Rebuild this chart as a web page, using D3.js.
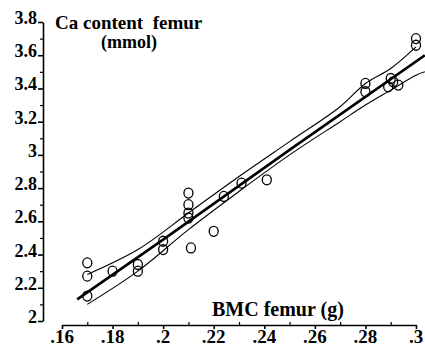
<!DOCTYPE html>
<html>
<head>
<meta charset="utf-8">
<script src="https://cdn.jsdelivr.net/npm/d3@7"></script>
<style>
  html, body { margin: 0; padding: 0; background: #fff; }
  svg { display: block; }
  text { font-family: "Liberation Serif", "Times New Roman", serif; font-weight: bold; fill: #000; white-space: pre; }
</style>
</head>
<body>
<svg id="chart" width="425" height="346"></svg>
<script>
// ---- data ----
const bmc = [0.17, 0.17, 0.17, 0.18, 0.19, 0.19, 0.20, 0.20, 0.21, 0.21, 0.21, 0.21, 0.211, 0.22, 0.224, 0.231, 0.241, 0.28, 0.28, 0.29, 0.291, 0.289, 0.293, 0.30, 0.30];
const ca  = [2.35, 2.27, 2.15, 2.30, 2.34, 2.30, 2.48, 2.43, 2.77, 2.70, 2.65, 2.62, 2.44, 2.54, 2.75, 2.83, 2.85, 3.43, 3.38, 3.46, 3.44, 3.41, 3.42, 3.70, 3.66];

// regression line (thick)
const fitX = [0.166, 0.20, 0.25, 0.3035];
const fitY = [2.13, 2.49, 3.03, 3.60];

// confidence band lines (thin)
const upperX = [0.17, 0.19, 0.21, 0.23, 0.25, 0.27, 0.28, 0.29, 0.30];
const upperY = [2.28, 2.43, 2.65, 2.87, 3.08, 3.29, 3.43, 3.52, 3.65];
const lowerX = [0.17, 0.19, 0.21, 0.23, 0.25, 0.27, 0.28, 0.29, 0.30, 0.3035];
const lowerY = [2.10, 2.30, 2.55, 2.78, 3.00, 3.20, 3.30, 3.39, 3.48, 3.50];

const xTicks = [0.16, 0.18, 0.20, 0.22, 0.24, 0.26, 0.28, 0.30];
const xTickLabels = [".16", ".18", ".2", ".22", ".24", ".26", ".28", ".3"];
const xMinor = [0.17, 0.19, 0.21, 0.23, 0.25, 0.27, 0.29];
const yTicks = [2, 2.2, 2.4, 2.6, 2.8, 3, 3.2, 3.4, 3.6, 3.8];
const yTickLabels = ["2", "2.2", "2.4", "2.6", "2.8", "3", "3.2", "3.4", "3.6", "3.8"];
const yMinor = [2.1, 2.3, 2.5, 2.7, 2.9, 3.1, 3.3, 3.5, 3.7];

const yTitle = ["Ca content  femur", "(mmol)"];
const xTitle = "BMC femur (g)";

// ---- drawing ----
const svg = d3.select("#chart");
const x = d3.scaleLinear().domain([0.16, 0.30]).range([62, 416]);
const y = d3.scaleLinear().domain([2, 3.8]).range([321, 22]);
const yAxisX = 43;
const xAxisY = 325;

// y axis
svg.append("g").attr("transform", `translate(${yAxisX},0)`)
  .call(d3.axisLeft(y).tickValues(yTicks).tickSize(5).tickSizeOuter(0).tickFormat(""))
  .call(g => g.selectAll("path,line").attr("stroke", "#000").attr("stroke-width", 1.6));
svg.append("g").attr("transform", `translate(${yAxisX},0)`)
  .call(d3.axisLeft(y).tickValues(yMinor).tickSize(3).tickSizeOuter(0).tickFormat(""))
  .call(g => g.select(".domain").remove())
  .call(g => g.selectAll("line").attr("stroke", "#000").attr("stroke-width", 1.2));
svg.append("g").selectAll("text").data(yTicks).join("text")
  .attr("x", 37).attr("y", d => y(d) + 2)
  .attr("text-anchor", "end").attr("font-size", 18)
  .text((d, i) => yTickLabels[i]);

// x axis
svg.append("g").attr("transform", `translate(0,${xAxisY})`)
  .call(d3.axisBottom(x).tickValues(xTicks).tickSize(4).tickSizeOuter(0).tickFormat(""))
  .call(g => g.selectAll("path,line").attr("stroke", "#000").attr("stroke-width", 1.6));
svg.append("g").attr("transform", `translate(0,${xAxisY})`)
  .call(d3.axisTop(x).tickValues(xMinor).tickSize(3).tickSizeOuter(0).tickFormat(""))
  .call(g => g.select(".domain").remove())
  .call(g => g.selectAll("line").attr("stroke", "#000").attr("stroke-width", 1.2));
svg.append("g").selectAll("text").data(xTicks).join("text")
  .attr("x", d => x(d)).attr("y", 343)
  .attr("text-anchor", "middle").attr("font-size", 19)
  .text((d, i) => xTickLabels[i]);

// lines
const line = d3.line().x(d => x(d[0])).y(d => y(d[1])).curve(d3.curveCatmullRom);
svg.append("path").datum(upperX.map((v, i) => [v, upperY[i]]))
  .attr("d", line).attr("fill", "none").attr("stroke", "#000").attr("stroke-width", 1.1);
svg.append("path").datum(lowerX.map((v, i) => [v, lowerY[i]]))
  .attr("d", line).attr("fill", "none").attr("stroke", "#000").attr("stroke-width", 1.1);
svg.append("path").datum(fitX.map((v, i) => [v, fitY[i]]))
  .attr("d", d3.line().x(d => x(d[0])).y(d => y(d[1])))
  .attr("fill", "none").attr("stroke", "#000").attr("stroke-width", 2.6);

// points
svg.append("g").selectAll("ellipse").data(bmc.map((v, i) => [v, ca[i]])).join("ellipse")
  .attr("cx", d => x(d[0])).attr("cy", d => y(d[1]))
  .attr("rx", 4.5).attr("ry", 5)
  .attr("fill", "none").attr("stroke", "#000").attr("stroke-width", 1.3);

// titles
svg.append("text").attr("x", 55).attr("y", 29).attr("font-size", 19).text(yTitle[0]);
svg.append("text").attr("x", 101).attr("y", 48).attr("font-size", 18).text(yTitle[1]);
svg.append("text").attr("x", 212).attr("y", 316).attr("font-size", 20).text(xTitle);
</script>
</body>
</html>
